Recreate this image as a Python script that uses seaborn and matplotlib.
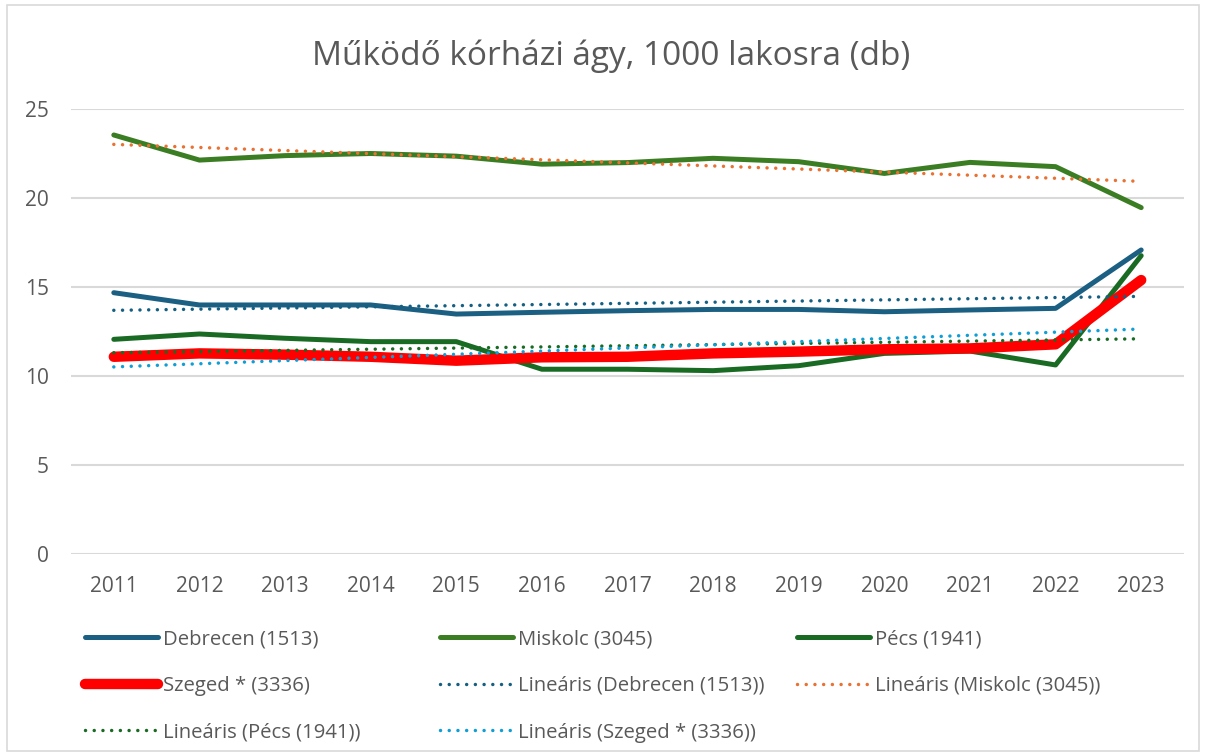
import matplotlib
matplotlib.use("Agg")
import matplotlib.pyplot as plt
import seaborn as sns
import numpy as np
from matplotlib.patches import Rectangle

# adatok (leolvasva)
years = ["2011", "2012", "2013", "2014", "2015", "2016", "2017",
         "2018", "2019", "2020", "2021", "2022", "2023"]
debrecen = [14.68, 13.99, 13.99, 13.99, 13.48, 13.58, 13.67, 13.74, 13.74, 13.61, 13.71, 13.80, 17.08]
miskolc = [23.54, 22.13, 22.38, 22.50, 22.35, 21.90, 21.99, 22.23, 22.04, 21.38, 22.00, 21.76, 19.46]
pecs = [12.06, 12.36, 12.12, 11.93, 11.93, 10.38, 10.38, 10.30, 10.58, 11.27, 11.40, 10.62, 16.76]
szeged = [11.08, 11.27, 11.20, 11.08, 10.86, 11.05, 11.08, 11.27, 11.37, 11.50, 11.55, 11.78, 15.39]

series_names = ["Debrecen (1513)", "Miskolc (3045)", "Pécs (1941)", "Szeged * (3336)"]
series_vals = [debrecen, miskolc, pecs, szeged]
series_colors = ["#1B5F82", "#3B7D23", "#196B24", "#FF0000"]
series_widths = [3.6, 3.6, 3.6, 7.5]
trend_colors = ["#156082", "#E97132", "#196B24", "#0F9ED5"]

txt = "#595959"
sns.set_theme(style="white")
plt.rcParams["font.family"] = ["Open Sans", "DejaVu Sans"]

fig = plt.figure(figsize=(12.06, 7.56), dpi=100)
fig.patches.append(Rectangle((0.006, 0.006), 0.988, 0.988, transform=fig.transFigure,
                             fill=False, edgecolor="#D9D9D9", linewidth=1.2))
ax = fig.add_axes([71/1206, 1-554/756, (1184-71)/1206, (554-109)/756])

x = np.arange(len(years))
for name, vals, col, lw in zip(series_names, series_vals, series_colors, series_widths):
    sns.lineplot(x=x, y=vals, ax=ax, color=col, linewidth=lw, label=name,
                 solid_capstyle="round", solid_joinstyle="round")

# linearis trendek
for name, vals, col in zip(series_names, series_vals, trend_colors):
    k, b = np.polyfit(x, vals, 1)
    sns.lineplot(x=x, y=k*x + b, ax=ax, color=col, linewidth=2.5,
                 label="Lineáris (" + name + ")")
    line = ax.get_lines()[-1]
    line.set_dashes((0.01, 2.5))
    line.set_dash_capstyle("round")

handles, labels = ax.get_legend_handles_labels()
ax.get_legend().remove()

ax.set_xlim(-0.5, len(years) - 0.5)
ax.set_ylim(0, 25)
ax.set_xticks(x)
ax.set_xticklabels(years)
ax.set_yticks([0, 5, 10, 15, 20, 25])
ax.tick_params(axis="both", length=0, labelsize=15, labelcolor=txt)
ax.tick_params(axis="y", pad=16)
ax.tick_params(axis="x", pad=16)
ax.grid(axis="y", color="#D9D9D9", linewidth=1.5)
ax.grid(axis="x", visible=False)
for s in ax.spines.values():
    s.set_visible(False)
ax.set_axisbelow(True)

fig.text(0.507, 1-56/756, "Működő kórházi ágy, 1000 lakosra (db)", ha="center", va="center",
         fontsize=24, color=txt)

# legenda: 3 oszlop, soronkent rendezve
col_x = [85, 440, 797]
for j in range(3):
    idx = list(range(j, len(handles), 3))
    leg = fig.legend([handles[i] for i in idx], [labels[i] for i in idx],
                     loc="upper left", bbox_to_anchor=(col_x[j]/1206, 1-629/756),
                     frameon=False, fontsize=14.6, handlelength=3.6, handletextpad=0.25,
                     labelspacing=1.32, borderpad=0, borderaxespad=0)
    for t in leg.get_texts():
        t.set_color(txt)

fig.savefig("out.png", dpi=100)
